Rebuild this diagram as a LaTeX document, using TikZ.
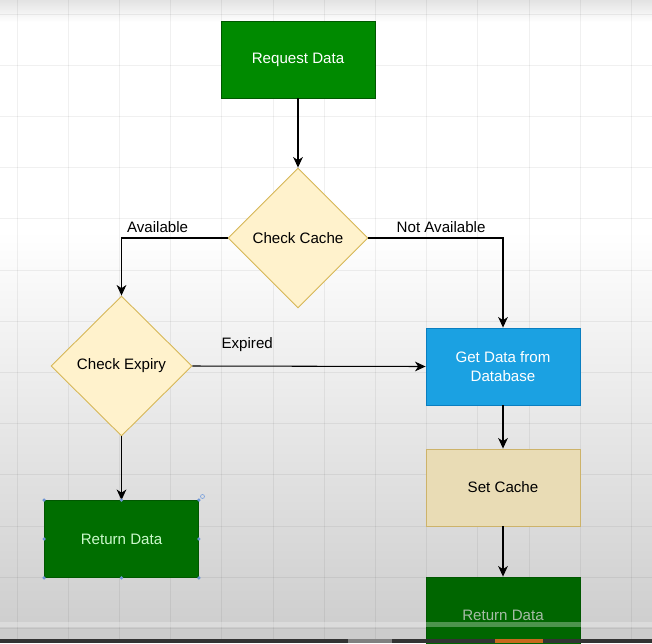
\documentclass[tikz,border=0pt]{standalone}
\usepackage{fontspec}
\setmainfont{Liberation Sans}
\usepackage{tikz}
\usetikzlibrary{shapes.geometric,arrows.meta}

\definecolor{reqgreen}{HTML}{008A00}
\definecolor{retgreen}{HTML}{006E00}
\definecolor{retgreendark}{HTML}{006600}
\definecolor{greenline}{HTML}{005700}
\definecolor{decfill}{HTML}{FFF2CC}
\definecolor{decline}{HTML}{D6B656}
\definecolor{dbblue}{HTML}{1BA1E2}
\definecolor{dbline}{HTML}{0A7EC0}
\definecolor{setfill}{HTML}{E9DCB5}
\definecolor{setline}{HTML}{CDB36A}
\definecolor{barorange}{HTML}{C8691E}

\begin{document}
\begin{tikzpicture}[x=0.02cm,y=-0.02cm]
  \tikzset{
    proc/.style={draw=greenline, line width=0.5pt, minimum width=3.08cm, minimum height=1.54cm, align=center, font=\fontsize{8.6}{10.6}\selectfont, inner sep=2pt},
    decision/.style={diamond, draw=decline, fill=decfill, line width=0.5pt, minimum width=2.8cm, minimum height=2.8cm, inner sep=0pt, font=\fontsize{8.6}{10.6}\selectfont},
    flow/.style={-{Stealth[length=6pt, width=5.5pt, inset=1.8pt]}, black, line width=0.6pt},
    lbl/.style={font=\fontsize{8.6}{10.6}\selectfont, inner sep=1pt},
    gridline/.style={black, opacity=0.06, line width=0.5pt},
    handle/.style={fill=cyan!45!blue!60, draw=none}
  }

  % canvas, 652 x 643 px
  \clip (0,0) rectangle (652,643);
  \fill[white] (0,0) rectangle (652,643);
  \shade[top color=black!11, bottom color=white] (0,0) rectangle (652,22);
  \shade[top color=white, bottom color=black!19] (0,230) rectangle (652,623);
  \fill[black!20] (0,622) rectangle (652,643);

  % grid
  \foreach \gx in {17,68.2,...,652} \draw[gridline] (\gx,0) -- (\gx,639);
  \foreach \gy in {14,65.2,...,639} \draw[gridline] (0,\gy) -- (652,\gy);

  % columns
  \def\xL{121.5}
  \def\xM{298}
  \def\xR{503}

  % nodes
  \node[proc, fill=reqgreen, text=white] (request) at (\xM,59.5) {Request Data};
  \node[decision] (cache) at (\xM,238) {Check Cache};
  \node[decision, minimum width=2.82cm] (expiry) at (\xL,366) {Check Expiry};
  \node[proc, fill=dbblue, draw=dbline, text=white] (fetch) at (\xR,366.5) {Get Data from\\Database};
  \node[proc, fill=setfill, draw=setline] (setcache) at (\xR,487.5) {Set Cache};
  \node[proc, fill=retgreen, text=black!12!green!20!white] (retleft) at (\xL,539) {Return Data};
  \node[proc, fill=retgreendark, text=green!25!black!35!white] (retright) at (\xR,615.5) {Return Data};

  % connectors
  \draw[flow] (request) -- (cache);
  \draw[flow] (cache.west) -| node[lbl, above=2pt, pos=0.33] {Available} (expiry.north);
  \draw[flow] (cache.east) -| node[lbl, above=2pt, pos=0.27] {Not Available} (fetch.north);
  \draw[flow] (expiry.east) -- node[lbl, above=7pt, pos=0.235] {Expired} (fetch.west);
  \draw[flow] (expiry) -- (retleft);
  \draw[flow] (fetch) -- (setcache);
  \draw[flow] (setcache) -- (retright);

  % selection handles
  \foreach \a in {north west,north,north east,east,south east,south,south west,west}
    \fill[handle] (retleft.\a) circle (1.8);
  \draw[cyan!50!blue!50, line width=0.4pt] (202.5,496.5) circle (2);

  % player strip
  \fill[white, opacity=0.3] (0,622) rectangle (652,627);
  \fill[black!80] (0,639) rectangle (652,643);
  \fill[black!50] (348,639) rectangle (392,643);
  \fill[barorange] (495,639) rectangle (543,643);
\end{tikzpicture}
\end{document}
